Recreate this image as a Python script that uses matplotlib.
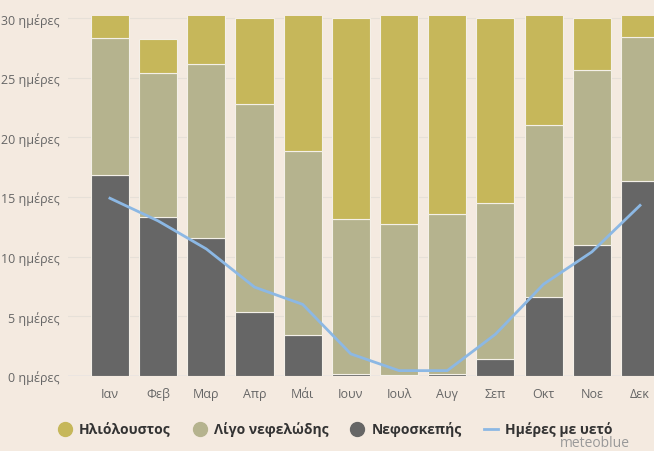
import matplotlib.pyplot as plt
from matplotlib.lines import Line2D

months = ["Ιαν", "Φεβ", "Μαρ", "Απρ", "Μάι", "Ιουν", "Ιουλ", "Αυγ", "Σεπ", "Οκτ", "Νοε", "Δεκ"]
overcast = [16.85, 13.3, 11.55, 5.4, 3.4, 0.15, 0.1, 0.15, 1.4, 6.6, 11.0, 16.35]
partly = [11.45, 12.1, 14.6, 17.4, 15.45, 13.05, 12.6, 13.45, 13.1, 14.4, 14.65, 12.05]
month_days = [31, 28.25, 31, 30, 31, 30, 31, 31, 30, 31, 30, 31]
rain_days = [14.9, 13.0, 10.65, 7.45, 6.0, 1.85, 0.45, 0.45, 3.5, 7.7, 10.4, 14.3]
sunny = [d - o - p for d, o, p in zip(month_days, overcast, partly)]

bg = "#f4eae0"
c_sun = "#c6b75a"
c_partly = "#b5b38e"
c_over = "#666666"
c_rain = "#8cb8e4"
font = "Open Sans"

fig = plt.figure(figsize=(6.54, 4.52), dpi=100, facecolor=bg)
ax = fig.add_axes([68 / 654, 75 / 452, 586 / 654, 360.3 / 452])
ax.set_facecolor(bg)

x = range(len(months))
w = 0.79
edge = dict(edgecolor="#f4f0e8", linewidth=0.8)
ax.bar(x, overcast, w, color=c_over, **edge, zorder=2)
ax.bar(x, partly, w, bottom=overcast, color=c_partly, **edge, zorder=2)
base2 = [o + p for o, p in zip(overcast, partly)]
ax.bar(x, sunny, w, bottom=base2, color=c_sun, **edge, zorder=2)
ax.plot(x, rain_days, color=c_rain, linewidth=2, zorder=3)

ax.set_xlim(-0.87, 11.29)
ax.set_ylim(0, 30.2)
ax.set_yticks(range(0, 31, 5))
ax.set_yticklabels([f"{v} ημέρες" for v in range(0, 31, 5)])
ax.set_xticks(list(x))
ax.set_xticklabels(months)
ax.tick_params(length=0, labelsize=9, labelcolor="#666666")
ax.tick_params(axis="x", pad=8)
ax.tick_params(axis="y", pad=6)
for lbl in ax.get_xticklabels() + ax.get_yticklabels():
    lbl.set_fontfamily(font)
ax.grid(axis="y", color="#e6e0d8", linewidth=0.8, zorder=0)
ax.axhline(0, color="#ccd6eb", linewidth=1, zorder=1)
for s in ax.spines.values():
    s.set_visible(False)

handles = [
    Line2D([], [], marker="o", linestyle="", markersize=10, color=c_sun),
    Line2D([], [], marker="o", linestyle="", markersize=10, color=c_partly),
    Line2D([], [], marker="o", linestyle="", markersize=10, color=c_over),
    Line2D([], [], color=c_rain, linewidth=2),
]
labels = ["Ηλιόλουστος", "Λίγο νεφελώδης", "Νεφοσκεπής", "Ημέρες με υετό"]
leg = fig.legend(handles, labels, loc="center", bbox_to_anchor=(335 / 654, 1 - 430 / 452),
                 ncol=4, frameon=False, handlelength=1.0, handletextpad=0.5, columnspacing=1.6,
                 prop={"family": font, "weight": "bold", "size": 10})
for t in leg.get_texts():
    t.set_color("#333333")

fig.text(630 / 654, 1 - 444 / 452, "meteoblue", ha="right", va="center",
         fontsize=10, color="#999999", family=font)

fig.savefig("out.png", dpi=100, facecolor=bg)
